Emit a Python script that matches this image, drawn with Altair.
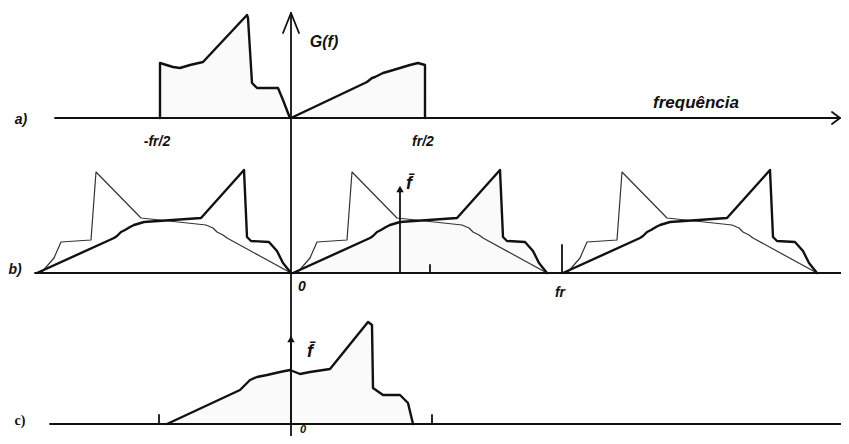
import altair as alt
import pandas as pd

# Coordinates: x = frequency position (0 at the vertical axis), y = level (baselines below)
BASE_A, BASE_B, BASE_C = 326, 171, 20

# a) spectrum G(f)
A_X = [-131, -131, -118, -111, -101, -88, -44, -43, -39, -34, -13, -8, -3, -1,
       0, 76, 81, 84, 92, 99, 119, 127, 134, 134]
A_H = [0, 55, 51, 50, 53, 56, 103, 100, 35, 30, 30, 18, 5, 0,
       0, 36, 40, 41, 45, 47, 53, 55, 53, 0]

# b) one period of the sampled spectrum (offsets from the copy start)
B_THICK_X = [0, 77, 80, 84, 88, 93, 97, 107, 164, 207, 210, 214, 232, 240, 246, 254]
B_THICK_H = [0, 35, 37, 41, 43, 46, 48, 51, 55, 103, 36, 32, 31, 22, 10, 0]
B_THIN_X = [4, 17, 24, 54, 59, 104, 169, 176, 180, 186, 190, 254]
B_THIN_H = [0, 15, 31, 33, 101, 55, 48, 45, 41, 38, 35, 0]
B_STARTS = [-254, 2, 272]

# c) shifted spectrum
C_X = [-124, -51, -46, -41, -34, -24, -11, -1, 9, 19, 39, 77, 81, 82, 92, 109, 117, 122]
C_H = [0, 34, 39, 44, 47, 49, 52, 54, 50, 52, 55, 102, 99, 36, 29, 29, 21, 0]

# axes (x from, x to, level)
AXES = [(-236, 549, BASE_A), (-256, 550, BASE_B), (-241, 550, BASE_C)]
VAXIS_X, VAXIS_TOP, VAXIS_BOTTOM = 0, 431, 8
# ticks (x, base, height)
TICKS = [(139, BASE_B, 8), (271, BASE_B, 28), (-132, BASE_C, 9), (141, BASE_C, 9)]
# f-bar arrows (x, base, height)
FBAR = [(109, BASE_B, 90), (0, BASE_C, 91)]

LABEL_TEXT = ["a)", "-fr/2", "fr/2", "G(f)", "frequência", "b)", "0", "fr",
              "f\u0304", "0", "f\u0304"]
LABEL_X = [-270, -134, 132, 33, 405, -276, 11, 269, 118, 12, 19]
LABEL_Y = [324, 302, 302, 402, 341, 174, 157, 151, 260, 14, 92]
LABEL_SIZE = [14, 14, 14, 16, 17, 14, 14, 14, 18, 11, 18]
PLAIN_TEXT, PLAIN_X, PLAIN_Y = ["c)"], [-271], [23]


def series(seg, xs, ys):
    return [dict(seg=seg, i=k, x=x, y=y) for k, (x, y) in enumerate(zip(xs, ys))]


thick, thin, axis, fill = [], [], [], []
thick += series("a", A_X, [BASE_A + h for h in A_H])
fill += series("fa", A_X, [BASE_A + h for h in A_H])
for n, s in enumerate(B_STARTS):
    thick += series(f"bk{n}", [s + x for x in B_THICK_X], [BASE_B + h for h in B_THICK_H])
    thin += series(f"bt{n}", [s + x for x in B_THIN_X], [BASE_B + h for h in B_THIN_H])
fill += series("fb", [B_STARTS[1] + x for x in B_THICK_X], [BASE_B + h for h in B_THICK_H])
thick += series("c", C_X, [BASE_C + h for h in C_H])
fill += series("fc", C_X, [BASE_C + h for h in C_H])

for n, (x0, x1, lv) in enumerate(AXES):
    axis += series(f"ax{n}", [x0, x1], [lv, lv])
axis += series("vax", [VAXIS_X, VAXIS_X], [VAXIS_BOTTOM, VAXIS_TOP])
axis += series("vhead", [VAXIS_X - 8, VAXIS_X, VAXIS_X + 8], [VAXIS_TOP - 20, VAXIS_TOP, VAXIS_TOP - 20])
axis += series("hhead", [AXES[0][1] - 8, AXES[0][1], AXES[0][1] - 8], [BASE_A + 6, BASE_A, BASE_A - 6])
for n, (x, b, h) in enumerate(TICKS):
    axis += series(f"tk{n}", [x, x], [b, b + h])
for n, (x, b, h) in enumerate(FBAR):
    axis += series(f"fb{n}", [x, x], [b, b + h - 8])

heads = pd.DataFrame([dict(x=x, y=b + h - 6) for x, b, h in FBAR])

xs = alt.Scale(domain=[-283, 550], nice=False, zero=False)
ys = alt.Scale(domain=[8, 436], nice=False, zero=False)
X = alt.X("x:Q", scale=xs, axis=None)
Y = alt.Y("y:Q", scale=ys, axis=None)


def line_layer(rows, width, color):
    return alt.Chart(pd.DataFrame(rows)).mark_line(
        strokeWidth=width, color=color, strokeJoin="round", strokeCap="round", clip=False
    ).encode(x=X, y=Y, detail="seg:N", order="i:Q")


fill_df = pd.DataFrame(fill)
fill_df["y0"] = fill_df["seg"].map({"fa": BASE_A, "fb": BASE_B, "fc": BASE_C})
fills = alt.Chart(fill_df).mark_area(color="#999999", opacity=0.05).encode(
    x=X, y=Y, y2="y0:Q", detail="seg:N")

head_layer = alt.Chart(heads).mark_point(
    shape="triangle-up", filled=True, size=55, color="#111111", opacity=1
).encode(x=X, y=Y)

labels = alt.Chart(pd.DataFrame(dict(t=LABEL_TEXT, x=LABEL_X, y=LABEL_Y, s=LABEL_SIZE))).mark_text(
    font="Liberation Sans", fontStyle="italic", fontWeight="bold", color="#111111",
    align="center", baseline="middle"
).encode(x=X, y=Y, text="t:N", size=alt.Size("s:Q", scale=None, legend=None))

plain = alt.Chart(pd.DataFrame(dict(t=PLAIN_TEXT, x=PLAIN_X, y=PLAIN_Y))).mark_text(
    font="Liberation Serif", fontWeight="bold", fontSize=14, color="#111111",
    align="center", baseline="middle"
).encode(x=X, y=Y, text="t:N")

chart = alt.layer(
    fills,
    line_layer(thin, 1.2, "#333333"),
    line_layer(axis, 1.8, "#111111"),
    line_layer(thick, 2.4, "#111111"),
    head_layer, labels, plain,
).properties(
    width=833, height=428, autosize=alt.AutoSizeParams(type="none"), padding=0,
    background="white"
).configure_view(stroke=None)

chart.save("out.html", embed_options={"renderer": "svg", "actions": False})
